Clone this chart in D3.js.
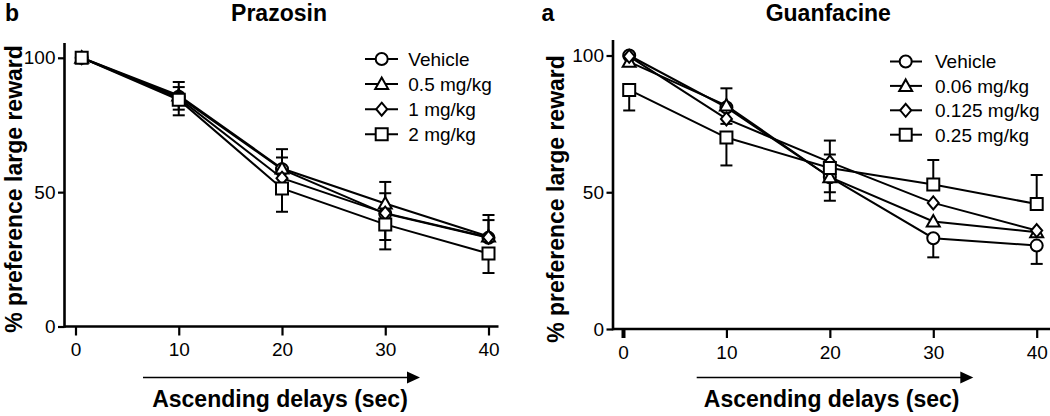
<!DOCTYPE html>
<html><head><meta charset="utf-8">
<script src="https://cdn.jsdelivr.net/npm/d3@7"></script>
<style>
body{margin:0;background:#fff;}
svg{display:block;font-family:"Liberation Sans",Arial,sans-serif;}
</style></head><body>
<svg id="chart" width="1050" height="416"></svg>
<script>
// ---------- data ----------
const delays = [0.6, 10, 20, 30, 40];
const xTickValues = [0, 10, 20, 30, 40];
const yTickValues = [0, 50, 100];
const shapes = ["circle", "triangle", "diamond", "square"];

const prazosinLabels = ["Vehicle", "0.5 mg/kg", "1 mg/kg", "2 mg/kg"];
const prazosinMeans = [
  [100, 85.5, 58.5, 42.0, 33.0],
  [100, 86.0, 58.8, 45.8, 33.5],
  [100, 85.0, 55.2, 42.2, 33.2],
  [100, 84.4, 51.4, 38.0, 27.2]
];
const prazosinErrUp = [
  [0, 5.5, 7.5, 7.6, 8.5],
  [0, 3.1, 4.1, 8.0, 6.1],
  [0, 0, 0, 0, 0],
  [0, 0, 0, 0, 0]
];
const prazosinErrDown = [
  [0, 0, 0, 0, 0],
  [0, 0, 0, 0, 0],
  [0, 4.3, 0, 10.0, 0],
  [0, 5.8, 8.7, 9.3, 7.3]
];

const guanfacineLabels = ["Vehicle", "0.06 mg/kg", "0.125 mg/kg", "0.25 mg/kg"];
const guanfacineMeans = [
  [100, 81.0, 55.5, 33.2, 30.5],
  [97.7, 81.7, 55.5, 39.3, 35.4],
  [99.7, 76.8, 61.0, 46.1, 36.0],
  [87.4, 70.0, 58.9, 52.8, 45.7]
];
const guanfacineErrUp = [
  [0, 0, 0, 0, 0],
  [0, 6.3, 0, 0, 0],
  [0, 0, 7.9, 0, 0],
  [0, 0, 4.9, 9.0, 10.6]
];
const guanfacineErrDown = [
  [0, 6.0, 8.6, 7.0, 6.7],
  [0, 0, 5.5, 0, 0],
  [0, 0, 0, 0, 0],
  [7.5, 10.2, 0, 0, 0]
];

// ---------- drawing ----------
const svg = d3.select("#chart");
const FONT = '"Liberation Sans", Arial, sans-serif';

const shapePath = {
  circle: "M6,0A6,6 0 1 1 -6,0A6,6 0 1 1 6,0Z",
  triangle: "M0,-6.5L6.5,5L-6.5,5Z",
  diamond: "M0,-6.5L5.5,0L0,6.5L-5.5,0Z",
  square: "M-6,-6H6V6H-6Z"
};

function drawPanel(cfg, title, letter, labels, means, errUp, errDown) {
  const g = svg.append("g");
  const x = d3.scaleLinear().domain([0, 40]).range([cfg.x0, cfg.x40]);
  const y = d3.scaleLinear().domain([0, 100]).range([cfg.y0, cfg.y100]);

  // y axis
  const gy = g.append("g").attr("transform", `translate(${cfg.axisX},0)`)
    .call(d3.axisLeft(y).tickValues(yTickValues).tickSize(6.5).tickPadding(2.5).tickSizeOuter(0));
  gy.select(".domain").remove();
  gy.selectAll(".tick line").attr("stroke", "#000").attr("stroke-width", 2.2);
  gy.selectAll(".tick text").attr("font-size", 19).attr("font-family", FONT).attr("fill", "#000");
  g.append("line").attr("x1", cfg.axisX).attr("x2", cfg.axisX)
    .attr("y1", cfg.y0 + 1.2).attr("y2", cfg.axisTop)
    .attr("stroke", "#000").attr("stroke-width", 2.6);

  // x axis
  const gx = g.append("g").attr("transform", `translate(0,${cfg.y0})`)
    .call(d3.axisBottom(x).tickValues(xTickValues).tickSize(9).tickPadding(7.5).tickSizeOuter(0));
  gx.select(".domain").remove();
  gx.selectAll(".tick line").attr("stroke", "#000")
    .attr("stroke-width", d => (d === 0 ? cfg.zeroTickWidth : 2.2));
  gx.selectAll(".tick text").attr("font-size", 19).attr("font-family", FONT).attr("fill", "#000");
  g.append("line").attr("x1", cfg.axisX).attr("x2", cfg.axisRight)
    .attr("y1", cfg.y0).attr("y2", cfg.y0)
    .attr("stroke", "#000").attr("stroke-width", 2.6);

  // series lines
  const line = d3.line().x(d => x(d[0])).y(d => y(d[1]));
  means.forEach((m, i) => {
    g.append("path").datum(delays.map((d, j) => [d, m[j]]))
      .attr("d", line).attr("fill", "none").attr("stroke", "#000").attr("stroke-width", 2);
  });

  // error bars
  means.forEach((m, i) => {
    delays.forEach((d, j) => {
      [[errUp[i][j], 1], [errDown[i][j], -1]].forEach(([e, s]) => {
        if (!e) return;
        const yy = y(m[j] + s * e);
        g.append("line").attr("x1", x(d)).attr("x2", x(d))
          .attr("y1", y(m[j])).attr("y2", yy)
          .attr("stroke", "#000").attr("stroke-width", 2);
        g.append("line").attr("x1", x(d) - 6).attr("x2", x(d) + 6)
          .attr("y1", yy).attr("y2", yy)
          .attr("stroke", "#000").attr("stroke-width", 2);
      });
    });
  });

  // markers
  means.forEach((m, i) => {
    g.selectAll(null).data(delays.map((d, j) => [d, m[j]])).enter()
      .append("path")
      .attr("d", shapePath[shapes[i]])
      .attr("transform", d => `translate(${x(d[0])},${y(d[1])})`)
      .attr("fill", "#fff").attr("stroke", "#000").attr("stroke-width", 2);
  });

  // legend
  labels.forEach((lab, i) => {
    const ry = cfg.legendY + i * cfg.legendStep;
    g.append("line").attr("x1", cfg.legendX1).attr("x2", cfg.legendX2)
      .attr("y1", ry).attr("y2", ry).attr("stroke", "#000").attr("stroke-width", 2);
    g.append("path").attr("d", shapePath[shapes[i]])
      .attr("transform", `translate(${cfg.legendMX},${ry})`)
      .attr("fill", "#fff").attr("stroke", "#000").attr("stroke-width", 2);
    g.append("text").attr("x", cfg.legendTX).attr("y", ry + 6.8)
      .attr("font-size", 19).attr("font-family", FONT).text(lab);
  });

  // arrow
  g.append("line").attr("x1", cfg.arrowX1).attr("x2", cfg.arrowX2 - 10)
    .attr("y1", cfg.arrowY).attr("y2", cfg.arrowY)
    .attr("stroke", "#000").attr("stroke-width", 1.6);
  g.append("path")
    .attr("d", `M${cfg.arrowX2},${cfg.arrowY}L${cfg.arrowX2 - 13},${cfg.arrowY - 6}L${cfg.arrowX2 - 13},${cfg.arrowY + 6}Z`)
    .attr("fill", "#000");

  // texts
  g.append("text").attr("x", cfg.titleX).attr("y", 21).attr("text-anchor", "middle")
    .attr("font-size", 23).attr("font-weight", "bold").attr("font-family", FONT).text(title);
  g.append("text").attr("x", cfg.letterX).attr("y", 21)
    .attr("font-size", 23).attr("font-weight", "bold").attr("font-family", FONT).text(letter);
  g.append("text").attr("x", cfg.xLabelX).attr("y", 407).attr("text-anchor", "middle")
    .attr("font-size", 23).attr("font-weight", "bold").attr("font-family", FONT)
    .text("Ascending delays (sec)");
  g.append("text").attr("transform", `translate(${cfg.yLabelX},${cfg.yLabelY}) rotate(-90)`)
    .attr("text-anchor", "middle")
    .attr("font-size", 23).attr("font-weight", "bold").attr("font-family", FONT)
    .text("% preference large reward");
}

drawPanel({
  x0: 75.5, x40: 488.5, y0: 326.5, y100: 57.8,
  axisX: 64.5, axisTop: 43, axisRight: 498.5, zeroTickWidth: 2.2,
  legendY: 59, legendStep: 25.1, legendX1: 365, legendX2: 398, legendMX: 381.7, legendTX: 408.3,
  arrowX1: 143, arrowX2: 420, arrowY: 377.5,
  titleX: 279, letterX: 5, xLabelX: 280, yLabelX: 21.5, yLabelY: 189
}, "Prazosin", "b", prazosinLabels, prazosinMeans, prazosinErrUp, prazosinErrDown);

drawPanel({
  x0: 623, x40: 1036.7, y0: 329, y100: 55.5,
  axisX: 613, axisTop: 40, axisRight: 1050, zeroTickWidth: 4,
  legendY: 61.5, legendStep: 24.4, legendX1: 890, legendX2: 922, legendMX: 905.7, legendTX: 935,
  arrowX1: 696.7, arrowX2: 973.3, arrowY: 377.5,
  titleX: 828.3, letterX: 541.5, xLabelX: 831.7, yLabelX: 564, yLabelY: 199
}, "Guanfacine", "a", guanfacineLabels, guanfacineMeans, guanfacineErrUp, guanfacineErrDown);
</script>
</body></html>
